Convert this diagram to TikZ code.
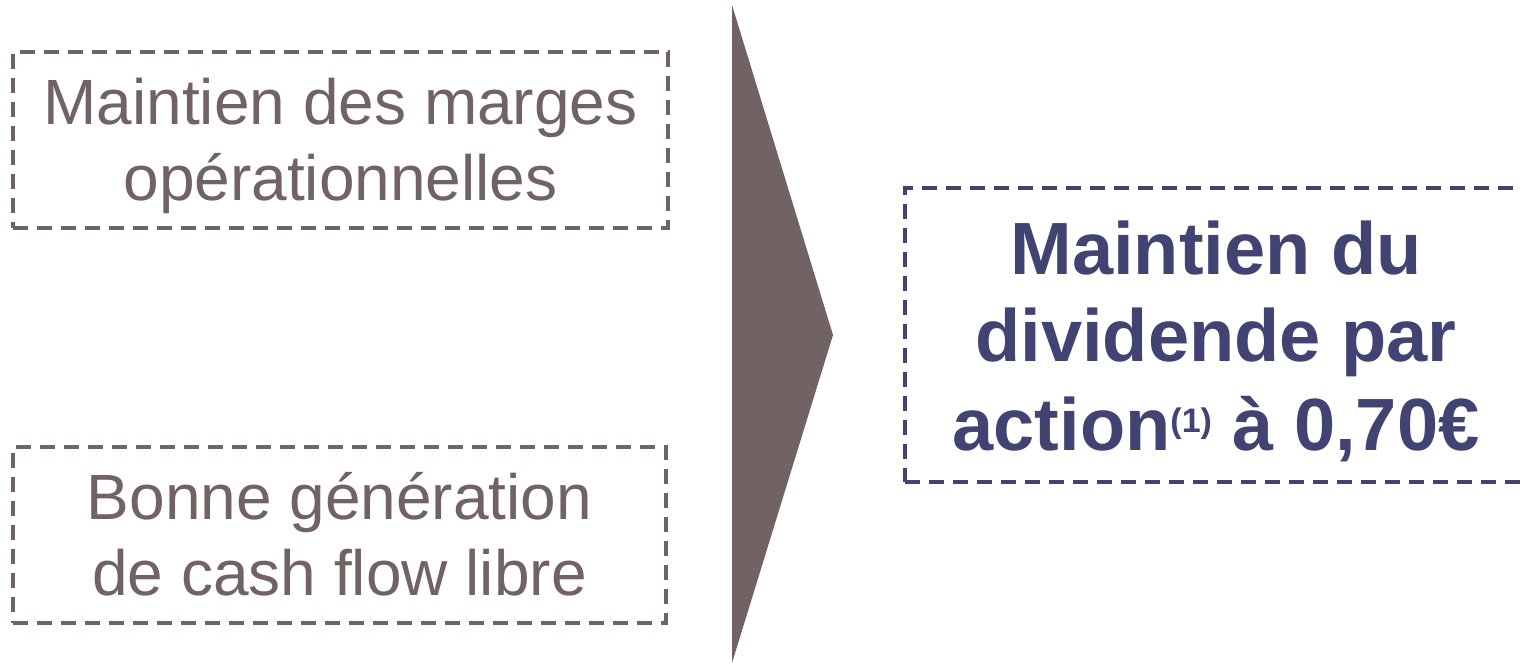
\documentclass[tikz,border=0pt]{standalone}
\usepackage{fontspec}
\setmainfont{Liberation Sans}
\definecolor{taupe}{HTML}{716264}
\definecolor{navy}{HTML}{414372}
\tikzset{
  dashbox/.style={draw=#1, line width=2pt, dash pattern=on 7.5pt off 4.5pt, inner sep=0pt},
  boxtext/.style={text=taupe, align=center, font=\fontsize{32}{38}\selectfont},
  goaltext/.style={text=navy, align=center, font=\fontsize{37}{44}\selectfont\bfseries}
}

\begin{document}
\begin{tikzpicture}[x=0.5pt,y=-0.5pt]
      \useasboundingbox (0,0) rectangle (1521,663);
      % left boxes
      \node[dashbox=taupe, minimum width=327.5pt, minimum height=88pt] (marges) at (340.5,140) {};
      \node[boxtext] (margestxt) at ([yshift=-3.65pt]marges.center) {\strut Maintien des marges\\op\'erationnelles\strut};
      \node[dashbox=taupe, minimum width=326.5pt, minimum height=88pt] (cash) at (339.5,535) {};
      \node[boxtext] (cashtxt) at ([yshift=-3.65pt]cash.center) {\strut Bonne g\'en\'eration\\de cash flow libre\strut};
      % arrow
      \fill[taupe] (732,5) -- (833,335) -- (732,663) -- cycle;
      % result box
      \node[dashbox=navy, minimum width=312.5pt, minimum height=147pt] (dividende) at (1217.5,335) {};
      \node[goaltext] (dividendetxt) at ([xshift=-0.75pt,yshift=-4.7pt]dividende.center)
        {\strut Maintien du\\dividende par\\action{\fontsize{17}{17}\selectfont\raisebox{9pt}{(1)}} \`a 0,70€\strut};
   \end{tikzpicture}
\end{document}
